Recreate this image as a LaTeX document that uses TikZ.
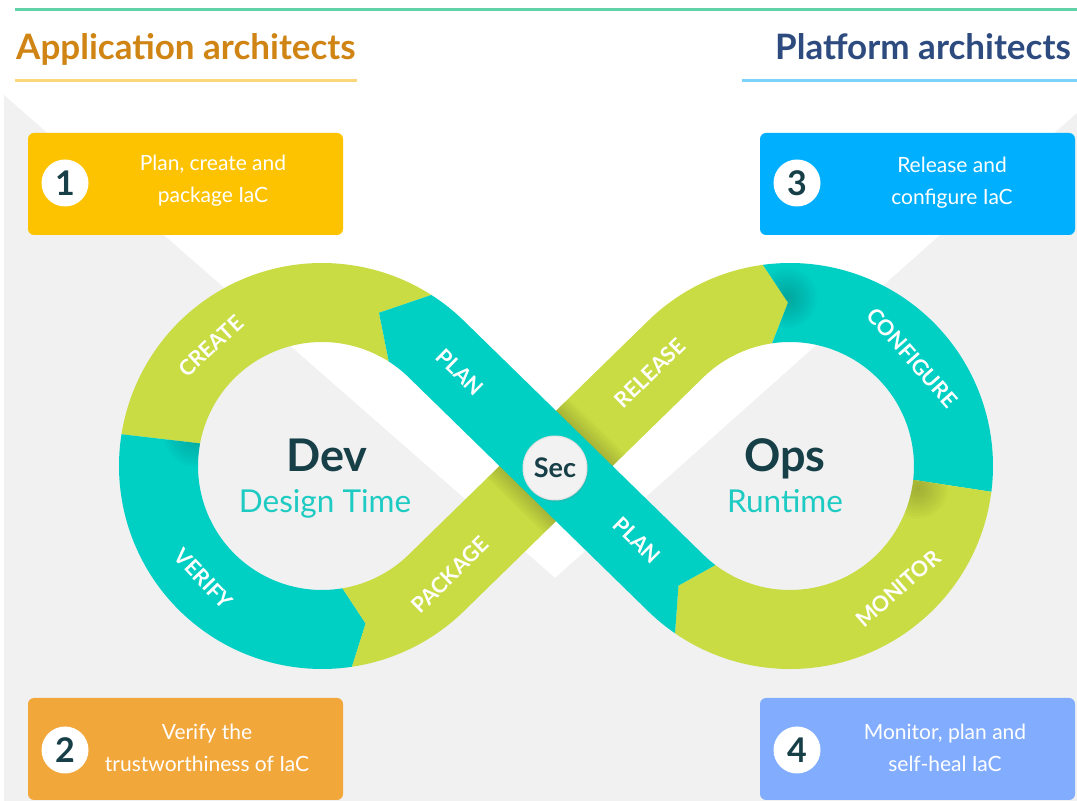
\documentclass[tikz,border=0pt]{standalone}
\usepackage{fontspec}
\setmainfont{Lato}
\usetikzlibrary{shadows}

\definecolor{leaf}{HTML}{C9DC44}
\definecolor{aqua}{HTML}{00CFC4}
\definecolor{bggray}{HTML}{F1F1F1}
\definecolor{inkteal}{HTML}{173F48}
\definecolor{apptitle}{HTML}{CF8413}
\definecolor{plattitle}{HTML}{2D4B7E}
\definecolor{topline}{HTML}{62D2AB}
\definecolor{appline}{HTML}{F9D77A}
\definecolor{platline}{HTML}{7DD3FC}
\definecolor{boxyellow}{HTML}{FEC300}
\definecolor{boxorange}{HTML}{F2A73B}
\definecolor{boxblue}{HTML}{00B0FF}
\definecolor{boxlilac}{HTML}{82ADFF}
\definecolor{subteal}{HTML}{1ECBC3}

\tikzset{
  infobox/.style={rounded corners=6pt, minimum width=315pt, minimum height=102pt, inner sep=0pt},
  numdisc/.style={circle, fill=white, minimum size=47pt, inner sep=0pt, text=inkteal,
    font=\fontsize{34}{40}\selectfont\bfseries},
  boxtext/.style={text=white, align=center, font=\fontsize{21}{32}\selectfont},
  bandlabel/.style={text=white, font=\fontsize{21.5}{24}\selectfont\bfseries, inner sep=0pt},
  hubtitle/.style={text=inkteal, font=\fontsize{45}{50}\selectfont\bfseries, anchor=base},
  hubsub/.style={text=subteal, font=\fontsize{31.5}{36}\selectfont, anchor=base},
  heading/.style={font=\fontsize{35}{40}\selectfont\bfseries, anchor=base},
  rule/.style={line width=3pt},
}

\def\ri{124}
\def\ro{203}
\def\rc{163.5}

% outlines of the loop segments
\def\createpath{([shift={(57.4:\ro)}]L) arc[start angle=57.4, end angle=171, radius=\ro]
  -- ([shift={(169.5:\ri)}]L) arc[start angle=169.5, end angle=57.4, radius=\ri]
  -- ([shift={(69.6:\rc)}]L) -- cycle}
\def\verifypath{([shift={(171:\ro)}]L) arc[start angle=171, end angle=278.5, radius=\ro]
  -- ([shift={(285.5:\rc)}]L) -- ([shift={(279.5:\ri)}]L)
  arc[start angle=279.5, end angle=169.5, radius=\ri] -- cycle}
\def\shippath{([shift={(279.5:\ri)}]L) -- ([shift={(285.5:\rc)}]L) -- ([shift={(278.5:\ro)}]L)
  arc[start angle=278.5, end angle=314.3, radius=\ro]
  -- ([shift={(134.3:\ri)}]R) arc[start angle=134.3, end angle=98.3, radius=\ri]
  -- ([shift={(90.7:\rc)}]R) -- ([shift={(97.7:\ro)}]R)
  arc[start angle=97.7, end angle=134.3, radius=\ro]
  -- ([shift={(314.3:\ri)}]L) arc[start angle=314.3, end angle=279.5, radius=\ri] -- cycle}
\def\configpath{([shift={(98.3:\ri)}]R) -- ([shift={(90.7:\rc)}]R) -- ([shift={(97.7:\ro)}]R)
  arc[start angle=97.7, end angle=-7.3, radius=\ro]
  -- ([shift={(-6.4:\ri)}]R) arc[start angle=-6.4, end angle=98.3, radius=\ri] -- cycle}
\def\monitorpath{([shift={(-7.3:\ro)}]R) arc[start angle=-7.3, end angle=-124.5, radius=\ro]
  -- ([shift={(-133:\rc)}]R) -- ([shift={(-127:\ri)}]R)
  arc[start angle=-127, end angle=-6.4, radius=\ri] -- cycle}
\def\planpath{([shift={(-124.5:\ro)}]R) arc[start angle=-124.5, end angle=-134.3, radius=\ro]
  -- ([shift={(45.7:\ri)}]L) arc[start angle=45.7, end angle=57.4, radius=\ri]
  -- ([shift={(69.6:\rc)}]L) -- ([shift={(57.4:\ro)}]L)
  arc[start angle=57.4, end angle=45.7, radius=\ro]
  -- ([shift={(-134.3:\ri)}]R) arc[start angle=-134.3, end angle=-127, radius=\ri]
  -- ([shift={(-133:\rc)}]R) -- cycle}

% soft fold shadow: stacked translucent discs around a point
\newcommand\foldshade[2]{%
  \foreach \k in {1,...,12}
    \fill[black, opacity=0.014] (#1) circle[radius={#2*\k/12}];}

\begin{document}
\begin{tikzpicture}[x=1pt, y=1pt]
\useasboundingbox (0,0) rectangle (1077,801);
\fill[white] (0,0) rectangle (1077,801);

% grey backdrop with the white V cut out of it
\fill[bggray] (4,706) -- (555,223) -- (1077,688) -- (1077,0) -- (4,0) -- cycle;

% header
\coordinate (tl) at (15,791);
\coordinate (tr) at (1077,791);
\draw[rule, topline] (tl) -- (tr);
\node[heading, text=apptitle, anchor=base west, inner sep=0pt] (apphead) at (16,741) {Application architects};
\node[heading, text=plattitle, anchor=base east, inner sep=0pt] (plathead) at (1071,741) {Platform architects};
\coordinate (al) at (15,720);
\coordinate (ar) at (357,720);
\coordinate (pl) at (742,720);
\coordinate (pr) at (1077,720);
\draw[rule, appline] (al) -- (ar);
\draw[rule, platline] (pl) -- (pr);

% info boxes
\node[infobox, fill=boxyellow] (box1) at (185.5,617) {};
\node[infobox, fill=boxblue]   (box3) at (917.5,617) {};
\node[infobox, fill=boxorange] (box2) at (185.5,52) {};
\node[infobox, fill=boxlilac]  (box4) at (917.5,52) {};

\node[numdisc] (n1) at (65,618) {1};
\node[numdisc] (n3) at (797,618) {3};
\node[numdisc] (n2) at (65,51) {2};
\node[numdisc] (n4) at (797,51) {4};

\node[boxtext] (t1) at (213,620) {Plan, create and\\package IaC};
\node[boxtext] (t3) at (952,618) {Release and\\configure IaC};
\node[boxtext] (t2) at (207,53) {Verify the\\trustworthiness of IaC};
\node[boxtext] (t4) at (945,53) {Monitor, plan and\\self-heal IaC};

% ring centres
\coordinate (L) at (322,335);
\coordinate (R) at (790,335);

% loop segments
\fill[leaf] \createpath;
\fill[aqua] \verifypath;
\fill[leaf] \shippath;
\fill[aqua] \configpath;
\fill[leaf] \monitorpath;

% fold shadows where one segment tucks under the next
\begin{scope}
  \clip \verifypath;
  \foldshade{[shift={(166:130)}]L}{32}
\end{scope}
\begin{scope}
  \clip \monitorpath;
  \foldshade{[shift={(-10:130)}]R}{30}
\end{scope}
\begin{scope}
  \clip \configpath;
  \foldshade{[shift={(91:168)}]R}{30}
\end{scope}

% shadow of the PLAN strip on the green strip underneath
\coordinate (pa) at ([shift={(45.7:\rc)}]L);
\coordinate (pb) at ([shift={(-134.3:\rc)}]R);
\begin{scope}
  \clip ([shift={(314.3:\ro)}]L) -- ([shift={(134.3:\ri)}]R) -- ([shift={(134.3:\ro)}]R) -- ([shift={(314.3:\ri)}]L) -- cycle;
  \foreach \k [evaluate=\k as \w using 79+3.5*\k] in {1,...,10}
    \draw[black, opacity=0.014, line width=\w pt] (pa) -- (pb);
\end{scope}

% PLAN, crossing over the green strip
\fill[aqua] \planpath;

% band labels
\node[bandlabel, rotate=42.8]  (create)    at ([shift={(132.8:\rc)}]L) {CREATE};
\node[bandlabel, rotate=-46.3] (verify)    at ([shift={(223.7:\rc)}]L) {VERIFY};
\node[bandlabel, rotate=-44.3] (planup)    at (460,429) {PLAN};
\node[bandlabel, rotate=44.3]  (package)   at (450,226) {PACKAGE};
\node[bandlabel, rotate=44.3]  (release)   at (650,428) {RELEASE};
\node[bandlabel, rotate=-44.3] (plandown)  at (637,261) {PLAN};
\node[bandlabel, rotate=-48.5] (configure) at ([shift={(41.5:\rc)}]R) {CONFIGURE};
\node[bandlabel, rotate=41.4]  (monitor)   at ([shift={(-48.6:\rc)}]R) {MONITOR};

% Sec hub
\node[circle, minimum size=64pt, inner sep=0pt, fill=white!95!black, draw=black!12, line width=1pt,
  drop shadow={opacity=0.18, shadow xshift=1pt, shadow yshift=-2pt},
  text=inkteal, font=\fontsize{27}{30}\selectfont\bfseries] (sec) at (555,333) {Sec};

% ring centres text
\node[hubtitle] (dev) at (327,329) {Dev};
\node[hubsub] (devsub) at (325,288) {Design Time};
\node[hubtitle] (ops) at (785,329) {Ops};
\node[hubsub] (opssub) at (785,288) {Runtime};
\end{tikzpicture}
\end{document}
